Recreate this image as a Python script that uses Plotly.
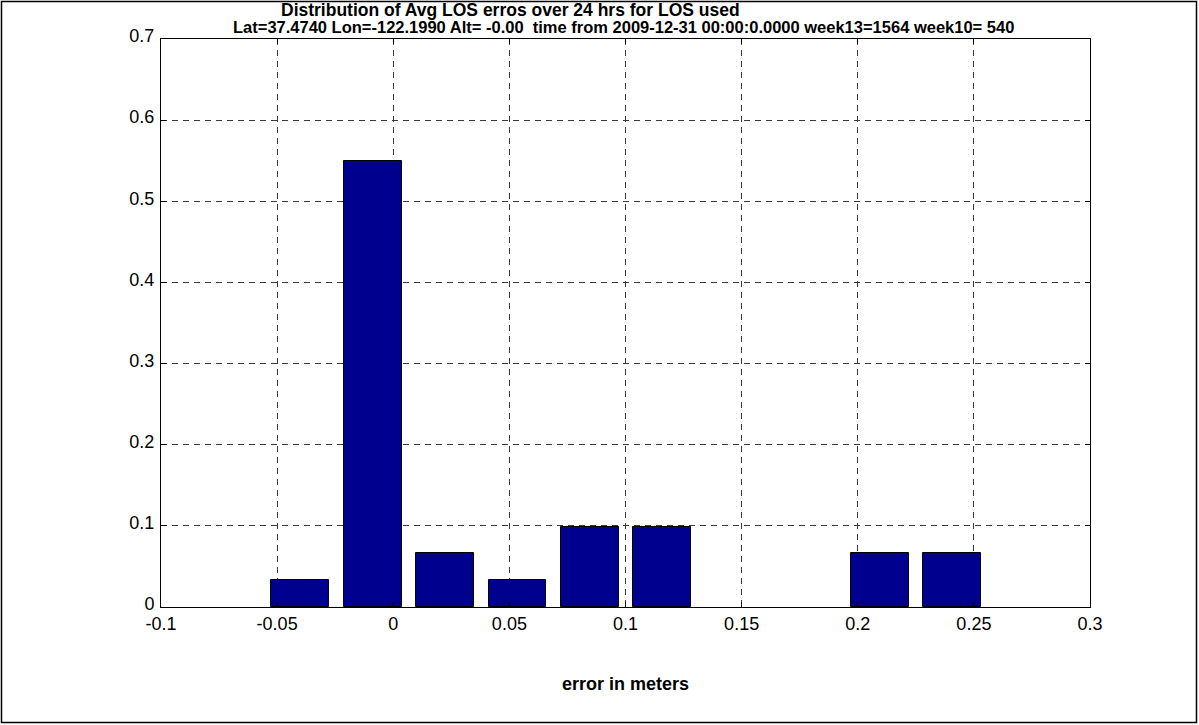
import plotly.graph_objects as go

# Histogram of average LOS errors (10 bins, relative frequency)
bin_centers = [-0.0401, -0.0089, 0.0223, 0.0535, 0.0847, 0.1159, 0.1471, 0.1783, 0.2095, 0.2407]
frequency = [0.0333, 0.55, 0.0667, 0.0333, 0.098, 0.098, 0.0, 0.0, 0.0667, 0.0667]

x_ticks = [-0.1, -0.05, 0, 0.05, 0.1, 0.15, 0.2, 0.25, 0.3]
x_tick_text = ["-0.1", "-0.05", "0", "0.05", "0.1", "0.15", "0.2", "0.25", "0.3"]
y_ticks = [0, 0.1, 0.2, 0.3, 0.4, 0.5, 0.6, 0.7]
y_tick_text = ["0", "0.1", "0.2", "0.3", "0.4", "0.5", "0.6", "0.7"]

title_line1 = "Distribution of Avg LOS erros over 24 hrs for LOS used"
title_line2 = ("Lat=37.4740 Lon=-122.1990 Alt= -0.00 \u00a0time from 2009-12-31 "
               "00:00:0.0000 week13=1564 week10= 540")
x_label = "error in meters"

W, H = 1199, 725
L, R, T, B = 161, 1090, 39, 607
bin_step = bin_centers[1] - bin_centers[0]

# empty bins get no outline so nothing shows along the x axis
edge_widths = [1 if v > 0 else 0 for v in frequency]

fig = go.Figure()
fig.add_trace(go.Bar(
    x=bin_centers,
    y=frequency,
    width=0.8 * bin_step,
    marker=dict(color="#00008F", line=dict(color="#000000", width=edge_widths)),
    showlegend=False,
    hoverinfo="x+y",
))

font_main = "Liberation Sans, Arial, Helvetica, sans-serif"
axis_common = dict(
    showline=True, linecolor="#000000", linewidth=1, mirror="ticks",
    ticks="inside", ticklen=5, tickcolor="#000000",
    showgrid=True, gridcolor="#3a3a3a", gridwidth=1, griddash="6px,5px",
    zeroline=False,
    tickfont=dict(family=font_main, size=18, color="#000000"),
)

fig.update_xaxes(range=[-0.1, 0.3], tickvals=x_ticks, ticktext=x_tick_text,
                 ticklabelstandoff=0, **axis_common)
fig.update_yaxes(range=[0, 0.7], tickvals=y_ticks, ticktext=y_tick_text,
                 ticklabelstandoff=2, ticklabelshift=-3, **axis_common)

pw, ph = R - L, B - T


def px_to_paper_x(px):
    return (px - L) / pw


def px_to_paper_y(py):
    return (B - py) / ph


annotations = [
    dict(text="<b>" + title_line1 + "</b>", x=px_to_paper_x(510), y=px_to_paper_y(9.5),
         xref="paper", yref="paper", xanchor="center", yanchor="middle", showarrow=False,
         font=dict(family=font_main, size=17.5, color="#000000")),
    dict(text="<b>" + title_line2 + "</b>", x=px_to_paper_x(623), y=px_to_paper_y(27.5),
         xref="paper", yref="paper", xanchor="center", yanchor="middle", showarrow=False,
         font=dict(family=font_main, size=16.5, color="#000000")),
    dict(text="<b>" + x_label + "</b>", x=px_to_paper_x(625), y=px_to_paper_y(684),
         xref="paper", yref="paper", xanchor="center", yanchor="middle", showarrow=False,
         font=dict(family=font_main, size=18, color="#000000")),
]

# Figure frame
shapes = [
    dict(type="rect", xref="paper", yref="paper",
         x0=px_to_paper_x(1.5), x1=px_to_paper_x(W - 2.5),
         y0=px_to_paper_y(H - 2.5), y1=px_to_paper_y(1.5),
         line=dict(color="#000000", width=1.5), fillcolor="rgba(0,0,0,0)", layer="below"),
]

fig.update_layout(
    width=W, height=H,
    margin=dict(l=L, r=W - R, t=T, b=H - B, pad=0),
    paper_bgcolor="#ffffff", plot_bgcolor="#ffffff",
    annotations=annotations, shapes=shapes,
    bargap=0,
)

fig.write_html("out.html")
